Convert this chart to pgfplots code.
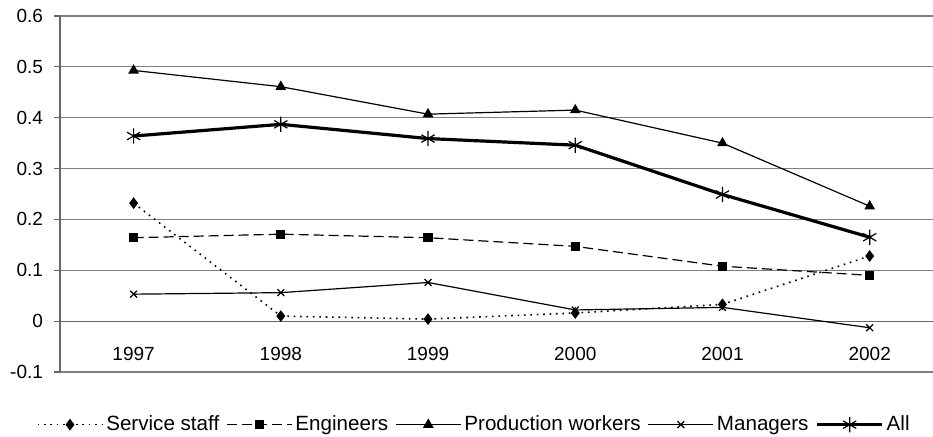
\documentclass[border=0pt]{standalone}
\usepackage{pgfplots}
\pgfplotsset{compat=1.18}
\usepackage{fontspec}
\setmainfont{Liberation Sans}
\begin{document}
\begin{tikzpicture}
\begin{axis}[
  name=ax,
  at={(0,0)}, anchor=south west,
  scale only axis,
  width=436.5pt, height=178pt,
  xmin=-0.5, xmax=5.43,
  ymin=-0.1, ymax=0.6,
  ytick={-0.1,0,0.1,0.2,0.3,0.4,0.5,0.6},
  yticklabels={-0.1,0,0.1,0.2,0.3,0.4,0.5,0.6},
  xtick={0,1,2,3,4,5},
  xticklabels={1997,1998,1999,2000,2001,2002},
  axis x line=middle,
  axis y line=left,
  axis line style={draw=black!60, line width=0.6pt, -},
  x axis line style={-},
  y axis line style={-},
  ymajorgrids,
  grid style={draw=black!50, line width=0.6pt},
  xtick style={draw=none},
  ytick style={draw=black!60, line width=0.6pt},
  ytick align=outside,
  major tick length=3pt,
  extra x ticks={0.5,1.5,2.5,3.5,4.5},
  extra x tick labels={},
  extra x tick style={tick style={draw=black!60, line width=0.6pt}, xtick align=outside, major tick length=3pt, grid=none},
  ticklabel style={font=\fontsize{9.5}{11}\selectfont, text=black},
  xticklabel style={yshift=-8pt},
  yticklabel style={xshift=-2pt},
  clip=false,
  legend columns=5,
  legend style={at={(rel axis cs:0.475,-0.148)}, anchor=center, draw=none, fill=none,
    font=\fontsize{10.3}{12}\selectfont, inner sep=0pt,
    /tikz/every even column/.append style={column sep=2pt},
    nodes={inner sep=1.5pt}},
  legend image code/.code={
    \draw[mark repeat=2,mark phase=2] plot coordinates {(0pt,0pt) (16.25pt,0pt) (32.5pt,0pt)};
  },
]
\addplot[black, line width=0.8pt, dash pattern=on 0.8pt off 2.4pt, mark=diamond*, mark size=2.3pt, mark options={solid, fill=black}]
  coordinates {(0,0.232) (1,0.010) (2,0.004) (3,0.016) (4,0.033) (5,0.128)};
\addlegendentry{Service staff}
\addplot[black, line width=0.6pt, dash pattern=on 5pt off 2.5pt, mark=square*, mark size=2pt, mark options={solid, fill=black}]
  coordinates {(0,0.164) (1,0.171) (2,0.164) (3,0.147) (4,0.108) (5,0.090)};
\addlegendentry{Engineers}
\addplot[black, line width=0.6pt, mark=triangle*, mark size=2.5pt, mark options={solid, fill=black}]
  coordinates {(0,0.493) (1,0.461) (2,0.407) (3,0.415) (4,0.350) (5,0.226)};
\addlegendentry{Production workers}
\addplot[black, line width=0.6pt, mark=x, mark size=2.4pt, mark options={solid, line width=0.6pt}]
  coordinates {(0,0.053) (1,0.056) (2,0.076) (3,0.022) (4,0.027) (5,-0.013)};
\addlegendentry{Managers}
\addplot[black, line width=1.6pt, mark=asterisk, mark size=3.8pt, mark options={solid, line width=0.6pt}]
  coordinates {(0,0.364) (1,0.387) (2,0.359) (3,0.346) (4,0.249) (5,0.165)};
\addlegendentry{All}
\end{axis}
\pgfresetboundingbox
\path[use as bounding box] (-30pt,-32.5pt) rectangle (436.5pt,186pt);
\end{tikzpicture}
\end{document}
